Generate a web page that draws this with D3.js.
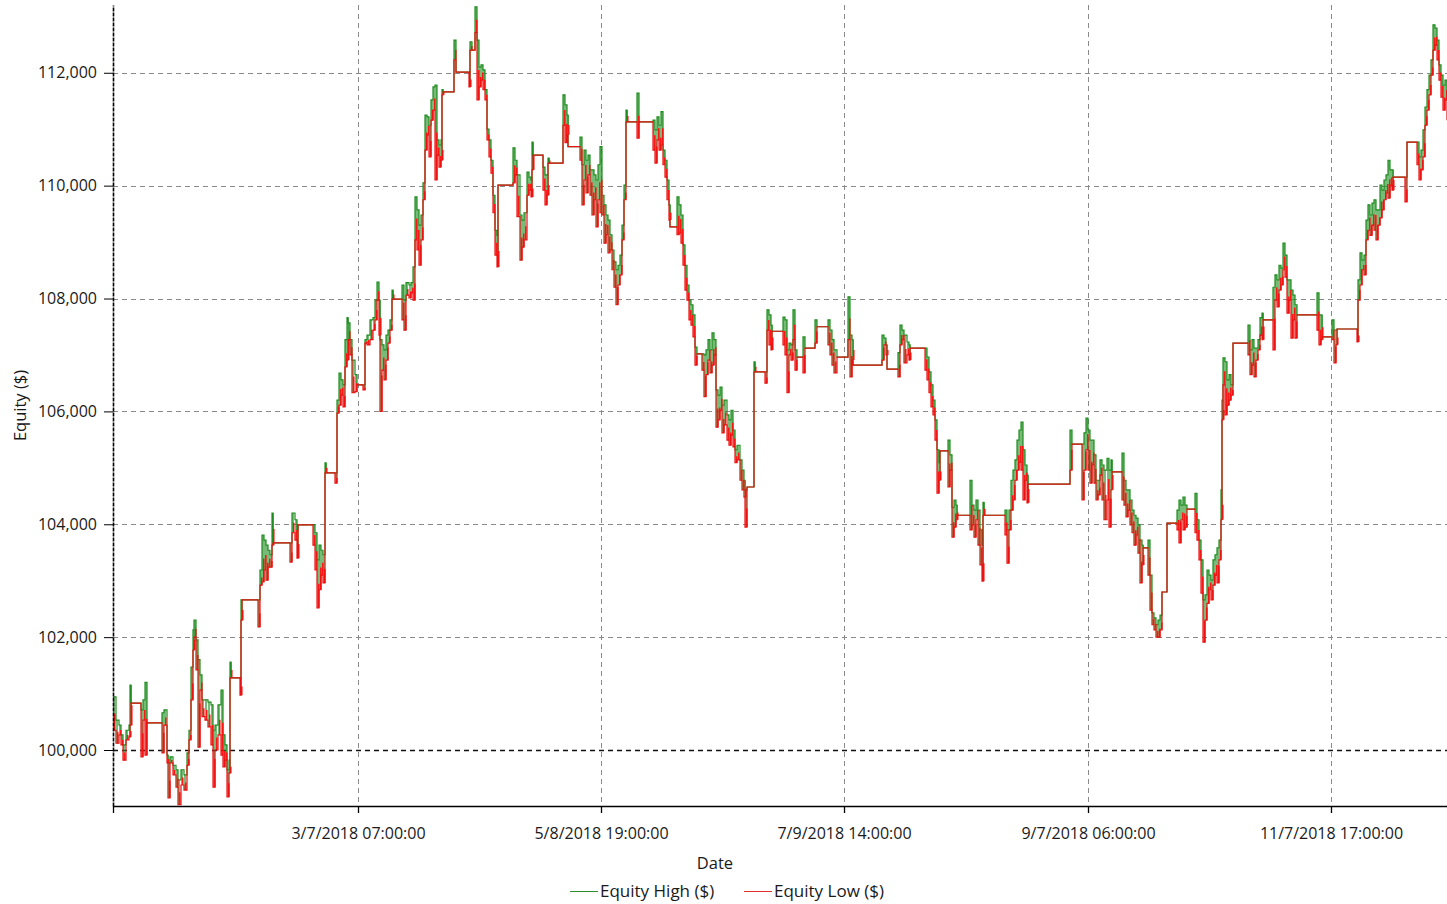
<!DOCTYPE html>
<html>
<head>
<meta charset="utf-8">
<script src="https://cdn.jsdelivr.net/npm/d3@7/dist/d3.min.js"></script>
<style>
  body { margin: 0; background: #fff; }
  text { font-family: "Open Sans", "Noto Sans", sans-serif; fill: #1a1a1a; }
</style>
</head>
<body>
<div id="chart"></div>
<script>
// bar number (hourly bars from the start of the test) for every sampled point
const barIndex = [
  0, 12, 24, 32, 40, 52, 64, 68, 72, 112, 120, 128, 136, 196, 204, 216, 220, 228, 240, 252, 260, 272, 284, 296, 304, 312, 320, 324, 332, 340, 348, 356, 368, 380, 392, 400, 408, 420, 432, 440, 448, 456, 464, 468, 472, 508, 512, 516,
  580, 588, 596, 604, 612, 620, 628, 636, 640, 708, 716, 728, 736, 740, 800, 808, 816, 824, 832, 840, 848, 852, 888, 896, 904, 912, 920, 928, 936, 940, 948, 956, 968, 976, 1000, 1008, 1016, 1028, 1040, 1048, 1056, 1064, 1068, 1076, 1084, 1092, 1100, 1108, 1116, 1120, 1156, 1164,
  1172, 1184, 1192, 1200, 1208, 1216, 1224, 1232, 1240, 1248, 1256, 1264, 1272, 1280, 1288, 1296, 1304, 1312, 1316, 1320, 1364, 1372, 1424, 1428, 1436, 1448, 1456, 1464, 1472, 1480, 1488, 1496, 1504, 1512, 1520, 1528, 1536, 1540, 1600, 1608, 1616, 1628, 1636, 1644, 1656, 1664, 1672, 1676, 1680, 1720, 1728, 1736, 1740, 1744,
  1800, 1808, 1816, 1820, 1868, 1876, 1884, 1892, 1900, 1908, 1916, 1924, 1932, 1940, 1948, 1956, 1964, 1972, 1980, 1988, 1996, 2004, 2012, 2020, 2028, 2036, 2044, 2052, 2056, 2096, 2104, 2160, 2168, 2176, 2184, 2192, 2200, 2208, 2216, 2224, 2228, 2256, 2264, 2272, 2280, 2288, 2296, 2304, 2312, 2320,
  2328, 2336, 2356, 2364, 2372, 2380, 2388, 2396, 2404, 2412, 2420, 2428, 2436, 2444, 2456, 2464, 2472, 2480, 2488, 2496, 2508, 2516, 2524, 2528, 2536, 2564, 2568, 2608, 2616, 2624, 2632, 2636, 2680, 2688, 2696, 2704, 2712, 2720, 2728, 2736, 2760, 2768, 2808, 2816, 2860, 2868, 2876, 2884, 2896, 2940, 2948, 2956, 2960,
  3076, 3084, 3092, 3096, 3140, 3148, 3156, 3164, 3176, 3184, 3188, 3248, 3256, 3264, 3272, 3280, 3288, 3296, 3304, 3308, 3340, 3348, 3356, 3364, 3372, 3376, 3428, 3436, 3444, 3452, 3460, 3468, 3476, 3480, 3484, 3568, 3576, 3584, 3592, 3600, 3608, 3616, 3624, 3632, 3640, 3648, 3656, 3660,
  3828, 3836, 3876, 3884, 3892, 3900, 3908, 3916, 3924, 3932, 3940, 3948, 3956, 3964, 3976, 3984, 3992, 3996, 4036, 4044, 4052, 4060, 4068, 4076, 4084, 4092, 4100, 4108, 4116, 4120, 4140, 4148, 4156, 4164, 4172, 4180, 4188, 4196, 4216, 4256, 4264, 4272, 4280, 4288, 4296, 4328, 4336, 4344, 4352, 4360, 4368, 4376, 4384, 4392, 4400, 4408, 4416, 4424, 4432, 4436,
  4440, 4448, 4456, 4464, 4472, 4480, 4540, 4548, 4556, 4564, 4572, 4580, 4588, 4596, 4600, 4640, 4648, 4656, 4664, 4672, 4680, 4688, 4696, 4704, 4712, 4720, 4728, 4736, 4816, 4824, 4832, 4836, 4876, 4884, 4892, 4896, 4976, 4980, 4988, 4996, 5004, 5012, 5020, 5028, 5036, 5044, 5052, 5060, 5068, 5076, 5084, 5092, 5100, 5108, 5116, 5120, 5168, 5176, 5216, 5224, 5232, 5240, 5248, 5256, 5264, 5272, 5280, 5288, 5296, 5304, 5312, 5320, 5328, 5336
];

const equityLow = [
  100350, 100120, 100270, 100090, 99820, 100180, 100230, 100440, 100830, 99880, 100530, 99910, 100480, 99950, 100440, 99770, 99150, 99770, 99560, 99340, 99030, 99380, 99290, 99730, 100180, 100890, 101770, 102000, 101420, 100050, 101060, 100590, 100530, 100410, 100090, 99340, 100000, 100270, 99910, 99700, 99820, 99170, 99590, 101280, 101280, 100970, 102300, 102660,
  102180, 102920, 102980, 103190, 103010, 103240, 103240, 103630, 103670, 103330, 103850, 103720, 103400, 103990, 103630, 103190, 102520, 102840, 103100, 102960, 104910, 104910, 104730, 105970, 106110, 106290, 106080, 106790, 106910, 107270, 107000, 106330, 106350, 106470, 106380, 107210, 107180, 107270, 107440, 107620, 107970, 107350, 106000, 106730, 106560, 106910, 107210, 107440, 107990, 107990, 107620, 107440,
  108060, 108010, 108100, 107970, 109040, 108860, 108590, 109040, 109750, 110630, 110900, 110510, 111160, 111340, 110100, 110540, 110330, 110450, 111610, 111660, 112230, 112010, 111750, 112400, 112400, 112710, 111520, 111750, 111870, 111700, 111520, 110810, 110510, 110220, 109520, 108770, 108560, 110010, 110050, 110190, 109450, 108680, 108910, 109040, 109830, 109920, 109800, 110280, 110540, 109920, 109660, 109830, 110400, 110400,
  111070, 110760, 110900, 110690, 110450, 109660, 110100, 109870, 110190, 109830, 109480, 109750, 109270, 109750, 109520, 109480, 108980, 109130, 108810, 108860, 108510, 108200, 107890, 108240, 108420, 109040, 109750, 111130, 111130, 110840, 111130, 110630, 110400, 110810, 110630, 110720, 110370, 110150, 109750, 109390, 109270, 109130, 109160, 108980, 108590, 108150, 107970, 107620, 107530, 107320,
  106820, 107020, 106730, 106260, 106650, 106910, 106680, 106820, 107000, 105720, 105850, 106020, 105620, 105760, 105490, 105400, 105580, 105370, 105090, 105140, 104780, 104610, 104480, 103950, 104660, 106700, 106700, 106500, 107440, 107180, 107090, 107420, 107180, 107000, 106330, 107000, 106910, 107270, 106730, 106960, 106680, 107120, 107210, 107500, 107180, 107000, 106820, 106680, 106960, 107270, 106610, 106910, 106820,
  106910, 107180, 107000, 106750, 106610, 107180, 107270, 106860, 107000, 106910, 107120, 106730, 106560, 106330, 106080, 105940, 105490, 104550, 104780, 105300, 104660, 104960, 103770, 103950, 104080, 104160, 103900, 103990, 103770, 104080, 103630, 103280, 102990, 104160, 104160, 103810, 103310, 103900, 104250, 104430, 104780, 104960, 105100, 104960, 104430, 104780, 104380, 104710,
  104960, 105420, 104430, 104960, 105320, 104960, 104730, 105050, 104730, 104430, 104520, 104870, 104430, 104080, 104430, 103950, 104610, 104930, 104430, 104340, 104130, 104250, 103990, 103850, 103630, 103810, 103490, 102960, 103280, 103580, 103100, 102480, 102220, 102130, 102000, 102000, 102130, 102800, 104020, 103900, 103670, 104080, 103900, 103950, 104270, 103850, 103720, 103370, 102780, 101910, 102300, 102600, 102840, 102660, 102920, 103100, 102960, 103370, 104080, 105850,
  106470, 105940, 106110, 106200, 106290, 107210, 107000, 106650, 106820, 106610, 106910, 107090, 107350, 107270, 107620, 107090, 107970, 107850, 108150, 108240, 108510, 108380, 107740, 107970, 107300, 107620, 107300, 107710, 107440, 107180, 107270, 107320, 107270, 106860, 107180, 107460, 107230, 107970, 108240, 108510, 108420, 109040, 109210, 109120, 109300, 109210, 109040, 109300, 109430, 109570, 109750, 109870, 109780, 110010, 109920, 110150, 109710, 110770, 110370, 110100, 110280, 110510, 111070, 111340, 111610, 111960, 112400, 112490, 112230, 111870, 111570, 111340, 111520, 111160
];

const equityHigh = [
  100940, 100530, 100440, 100270, 100090, 100350, 100440, 101150, 100830, 100710, 100890, 101200, 100480, 100660, 100710, 99910, 99770, 99880, 99730, 99650, 99470, 99650, 99560, 99950, 100350, 101470, 102130, 102300, 101950, 101600, 101330, 100890, 100890, 100850, 100800, 100350, 100440, 100800, 101060, 100270, 100090, 99650, 99820, 101560, 101280, 101280, 102660, 102660,
  102660, 103190, 103810, 103720, 103630, 103540, 103460, 104200, 103670, 103670, 104200, 104080, 103900, 103990, 103990, 103850, 103370, 103630, 103540, 103460, 105090, 104910, 104910, 106200, 106680, 106560, 106470, 107270, 107660, 107570, 107270, 106910, 106650, 106470, 106470, 107270, 107350, 107620, 107660, 107970, 108290, 107970, 107270, 107180, 107090, 107350, 107440, 107620, 108150, 107990, 108240, 107970,
  108280, 108240, 108280, 108560, 109800, 109570, 109300, 109480, 110050, 111250, 111220, 111070, 111520, 111750, 111780, 110810, 110720, 110810, 111700, 111660, 112580, 112010, 112010, 112550, 112400, 113170, 112580, 112100, 112140, 112050, 111700, 111000, 110810, 110450, 109830, 109210, 109120, 110010, 110670, 110450, 110190, 109480, 109390, 109520, 110240, 110150, 110100, 110770, 110540, 110330, 110190, 110190, 110490, 110400,
  111610, 111430, 111250, 110690, 110860, 110370, 110630, 110450, 110540, 110280, 110280, 110190, 110100, 110370, 110690, 109830, 109660, 109480, 109390, 109130, 108860, 108650, 108510, 108590, 108770, 109300, 110010, 111340, 111130, 111640, 111130, 111160, 110990, 111220, 111070, 111310, 110630, 110450, 110100, 109660, 109270, 109800, 109660, 109480, 108950, 108590, 108240, 107970, 107890, 107710,
  107140, 107020, 107020, 107000, 107090, 107270, 107090, 107390, 107270, 106380, 106290, 106430, 106110, 106200, 105940, 105850, 106020, 105670, 105320, 105400, 105140, 104960, 104780, 104610, 104660, 106880, 106700, 106700, 107800, 107710, 107530, 107420, 107670, 107620, 107090, 107210, 107180, 107800, 107090, 106960, 107320, 107120, 107620, 107500, 107620, 107440, 107270, 107090, 106960, 108030, 107350, 107270, 106820,
  107350, 107300, 107180, 106750, 107040, 107530, 107440, 107350, 107230, 107180, 107120, 107120, 106960, 106700, 106470, 106200, 105850, 105320, 105090, 105300, 105490, 105230, 104300, 104430, 104340, 104160, 104780, 104340, 104250, 104430, 104250, 103900, 103630, 104390, 104160, 104250, 103900, 104250, 104780, 104960, 105140, 105490, 105670, 105810, 105320, 105050, 104870, 104710,
  105670, 105420, 105420, 105620, 105880, 105670, 105490, 105490, 105230, 104780, 104780, 105140, 105050, 104960, 105170, 104960, 105140, 104930, 105260, 104780, 104610, 104610, 104430, 104250, 104160, 104110, 103990, 103720, 103630, 103580, 103720, 103100, 102430, 102340, 102220, 102300, 102390, 102800, 104020, 104250, 104430, 104340, 104480, 104340, 104270, 104550, 104080, 103720, 103370, 102660, 102750, 103190, 103100, 103010, 103370, 103460, 103580, 103720, 104610, 106200,
  106950, 106880, 106560, 106650, 106470, 107210, 107530, 107090, 107270, 107120, 107120, 107270, 107660, 107740, 107620, 108200, 108420, 108330, 108590, 108540, 108980, 108770, 108330, 108330, 108150, 108060, 107890, 107710, 108100, 107710, 107710, 107320, 107620, 107440, 107440, 107460, 107460, 108330, 108810, 108680, 108770, 109390, 109660, 109480, 109690, 109750, 109570, 109570, 110010, 109920, 110100, 110190, 110450, 110280, 110280, 110150, 110150, 110770, 110770, 110510, 110630, 110990, 111390, 111700, 111960, 112230, 112850, 112790, 112580, 112140, 111960, 111780, 111870, 111610
];

// x-axis labels sit on these bars
const tickBars = [0, 980, 1952, 2924, 3900, 4872];
const tickLabels = ["", "3/7/2018 07:00:00", "5/8/2018 19:00:00", "7/9/2018 14:00:00", "9/7/2018 06:00:00", "11/7/2018 17:00:00"];
const equityTicks = [100000, 102000, 104000, 106000, 108000, 110000, 112000];

const width = 1447, height = 904;
const margin = {top: 5, right: 0, bottom: 98, left: 113};

const svg = d3.select("#chart").append("svg")
    .attr("width", width)
    .attr("height", height);

const x = d3.scaleLinear()
    .domain([0, 5336])
    .range([margin.left, width - margin.right]);

const y = d3.scaleLinear()
    .domain([99008, 113201])
    .range([height - margin.bottom, margin.top]);

const points = barIndex.map((b, i) => ({bar: b, low: equityLow[i], high: equityHigh[i]}));

// grid
const grid = svg.append("g");
grid.selectAll(".hgrid")
    .data(equityTicks)
    .enter().append("line")
    .attr("x1", margin.left)
    .attr("x2", width - margin.right)
    .attr("y1", d => Math.round(y(d)) + 0.5)
    .attr("y2", d => Math.round(y(d)) + 0.5)
    .style("stroke", d => d === 100000 ? "#111" : "#8a8a8a")
    .style("stroke-width", d => d === 100000 ? 1.3 : 1)
    .style("stroke-dasharray", "5,4");

grid.selectAll(".vgrid")
    .data(tickBars.slice(1))
    .enter().append("line")
    .attr("x1", d => Math.round(x(d)) + 0.5)
    .attr("x2", d => Math.round(x(d)) + 0.5)
    .attr("y1", margin.top)
    .attr("y2", height - margin.bottom)
    .style("stroke", "#8a8a8a")
    .style("stroke-dasharray", "5,4");

// equity lines
const highLine = d3.line()
    .x(d => x(d.bar))
    .y(d => y(d.high))
    .curve(d3.curveStepAfter);

const lowLine = d3.line()
    .x(d => x(d.bar))
    .y(d => y(d.low))
    .curve(d3.curveStepAfter);

const plot = svg.append("g");

plot.selectAll(".range")
    .data(points.filter(d => d.high > d.low))
    .enter().append("line")
    .attr("x1", d => x(d.bar) + 1)
    .attr("x2", d => x(d.bar) + 1)
    .attr("y1", d => y(d.high))
    .attr("y2", d => y(d.low))
    .style("stroke", "#1e8c1e")
    .style("stroke-width", 1.2);

plot.append("path")
    .datum(points)
    .attr("d", highLine)
    .style("fill", "none")
    .style("stroke", "#1e8c1e")
    .style("stroke-width", 1.2);

plot.selectAll(".lowrange")
    .data(points.filter(d => d.high > d.low))
    .enter().append("line")
    .attr("x1", d => x(d.bar) + 1.8)
    .attr("x2", d => x(d.bar) + 1.8)
    .attr("y1", d => y((d.low + d.high) / 2))
    .attr("y2", d => y(d.low))
    .style("stroke", "#ff1010")
    .style("stroke-width", 1.5);

plot.append("path")
    .datum(points)
    .attr("d", lowLine)
    .style("fill", "none")
    .style("stroke", "#e81010")
    .style("stroke-width", 1.2);

// axes
const xAxis = d3.axisBottom(x)
    .tickValues(tickBars)
    .tickFormat((d, i) => tickLabels[i])
    .tickSize(7)
    .tickPadding(15)
    .tickSizeOuter(0);

const gx = svg.append("g")
    .attr("transform", `translate(0,${height - margin.bottom})`)
    .call(xAxis);
gx.select(".domain").style("stroke", "#000").style("stroke-width", 1.6);
gx.selectAll(".tick line").style("stroke", "#000").style("stroke-width", 1.3);
gx.selectAll(".tick text").style("font-size", "16px").style("fill", "#1a1a1a");

const yAxis = d3.axisLeft(y)
    .tickValues(equityTicks)
    .tickFormat(d3.format(","))
    .tickSize(9)
    .tickPadding(7)
    .tickSizeOuter(0);

const gy = svg.append("g")
    .attr("transform", `translate(${margin.left},0)`)
    .call(yAxis);
gy.select(".domain")
    .style("stroke", "#000")
    .style("stroke-width", 1.6)
    .style("stroke-dasharray", "4,1");
gy.selectAll(".tick line").style("stroke", "#000");
gy.selectAll(".tick text").style("font-size", "16px").style("fill", "#1a1a1a");

// titles
svg.append("text")
    .attr("transform", `translate(26,${(margin.top + height - margin.bottom) / 2}) rotate(-90)`)
    .attr("text-anchor", "middle")
    .style("font-size", "16.5px")
    .text("Equity ($)");

svg.append("text")
    .attr("x", 715)
    .attr("y", 869)
    .attr("text-anchor", "middle")
    .style("font-size", "16.5px")
    .text("Date");

// legend
const legendItems = [
    {label: "Equity High ($)", color: "#2e8b2e", x: 570},
    {label: "Equity Low ($)", color: "#e03030", x: 744}
];
legendItems.forEach(item => {
    svg.append("line")
        .attr("x1", item.x)
        .attr("x2", item.x + 28)
        .attr("y1", 891.5)
        .attr("y2", 891.5)
        .style("stroke", item.color)
        .style("stroke-width", 1);
    svg.append("text")
        .attr("x", item.x + 30)
        .attr("y", 897)
        .style("font-size", "17px")
        .text(item.label);
});
</script>
</body>
</html>
